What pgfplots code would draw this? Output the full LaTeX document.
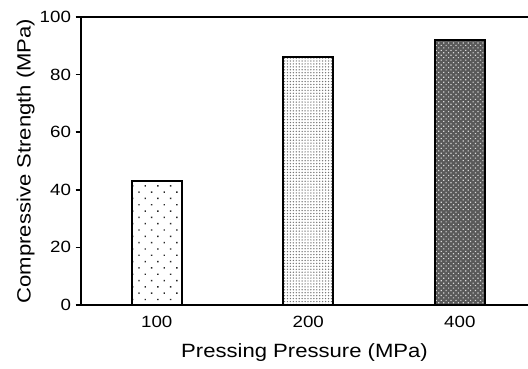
\documentclass[border=0pt]{standalone}
\usepackage{fontspec}
\setmainfont{Liberation Sans}[FakeStretch=1.15]
\usepackage{pgfplots}
\pgfplotsset{compat=1.18}
\usetikzlibrary{patterns,patterns.meta}

\begin{document}
\begin{tikzpicture}
\begin{axis}[
  name=ax,
  scale only axis,
  width=335.25pt, height=216pt,
  xmin=-0.5, xmax=2.45,
  ymin=0, ymax=100,
  axis x line*=bottom,
  axis y line*=left,
  axis line style={line width=1.1pt},
  xtick={0,1,2},
  xticklabels={100,200,400},
  major x tick style={draw=none},
  ytick={0,20,40,60,80,100},
  y tick style={line width=1.1pt, black},
  tick align=outside,
  major tick length=4pt,
  /pgf/number format/assume math mode=true,
  tick label style={font=\fontsize{12.2}{14}\selectfont},
  xticklabel style={yshift=-1pt},
  label style={font=\fontsize{14.4}{16}\selectfont},
  xlabel={Pressing Pressure (MPa)},
  ylabel={Compressive Strength (MPa)},
  xlabel style={yshift=-5pt},
  ylabel style={yshift=-3pt},
  ybar, bar width=37.5pt, bar shift=0pt,
  clip=false,
]
  % 100 MPa: sparse dots
  \addplot[draw=black, line width=1.3pt, fill=white,
    postaction={pattern={Dots[distance=6.7pt, radius=0.75pt, angle=45]}, pattern color=black!85}]
    coordinates {(0,43)};
  % 200 MPa: fine dots
  \addplot[draw=black, line width=1.3pt, fill=white,
    postaction={pattern={Dots[distance=2.2pt, radius=0.55pt]}, pattern color=black!55}]
    coordinates {(1,86)};
  % 400 MPa: dark crosshatch
  \addplot[draw=black, line width=1.3pt, fill=black!65,
    postaction={pattern={Dots[distance=2.6pt, radius=0.6pt, angle=45]}, pattern color=white!85!black}]
    coordinates {(2,92)};
  \draw[line width=1.1pt] (rel axis cs:0,1) -- (rel axis cs:1,1);
\end{axis}
\pgfresetboundingbox
\path (ax.south west) ++(-60.75pt,-48pt) coordinate (bl);
\path (ax.north east) ++(0pt,12.75pt) coordinate (tr);
\path (bl) rectangle (tr);
\end{tikzpicture}
\end{document}
